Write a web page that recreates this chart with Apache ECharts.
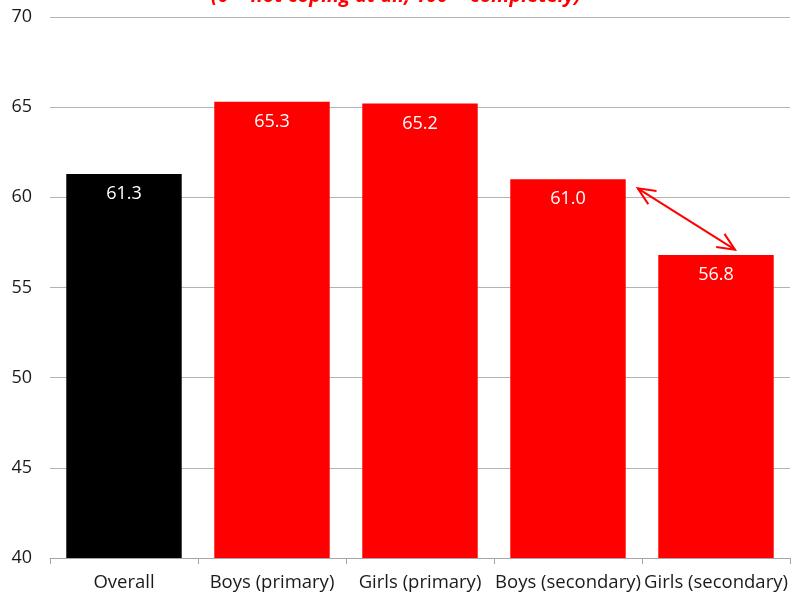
<!DOCTYPE html>
<html>
<head>
<meta charset="utf-8">
<script src="https://cdn.jsdelivr.net/npm/echarts@6/dist/echarts.min.js"></script>
<style>
  html, body { margin: 0; padding: 0; background: #fff; }
  #chart { width: 792px; height: 592px; }
</style>
</head>
<body>
<div id="chart"></div>
<script>
// Coping score by group (0-100 scale)
const categories = ['Overall', 'Boys (primary)', 'Girls (primary)', 'Boys (secondary)', 'Girls (secondary)'];
const scores = [61.3, 65.3, 65.2, 61.0, 56.8];
const barColors = ['#000000', '#ff0000', '#ff0000', '#ff0000', '#ff0000'];
const subtitle = '(0 = not coping at all, 100 = completely)';
// Gap highlighted between secondary boys and girls
const gapFrom = { index: 3, value: 60.5 };
const gapTo = { index: 4, value: 57.1 };

const FONT = '"Open Sans", "Liberation Sans", sans-serif';
const chart = echarts.init(document.getElementById('chart'), null, { renderer: 'canvas' });

chart.setOption({
  animation: false,
  grid: { left: 50, right: 2, top: 17, bottom: 34, containLabel: false, outerBoundsMode: 'none' },
  xAxis: {
    type: 'category',
    data: categories,
    axisLine: { lineStyle: { color: '#a6a6a6', width: 1 } },
    axisTick: { show: true, length: 6, lineStyle: { color: '#a6a6a6' } },
    axisLabel: { color: '#1a1a1a', fontSize: 18.5, fontFamily: FONT, margin: 15, interval: 0 }
  },
  yAxis: {
    type: 'value',
    min: 40, max: 70, interval: 5,
    axisLine: { show: false },
    axisTick: { show: false },
    axisLabel: { color: '#1a1a1a', fontSize: 18, fontFamily: FONT, margin: 18 },
    splitLine: { lineStyle: { color: '#b3b3b3', width: 1 } }
  },
  series: [{
    type: 'bar',
    barCategoryGap: '22%',
    data: scores.map((v, i) => ({ value: v, itemStyle: { color: barColors[i] } })),
    label: {
      show: true,
      position: 'insideTop',
      distance: 11,
      color: '#ffffff',
      fontSize: 18,
      fontFamily: FONT,
      formatter: p => p.value.toFixed(1)
    }
  }]
});

// Overlay: partially visible heading and the double-headed arrow
function drawOverlay() {
  const toPx = (idx, val) => chart.convertToPixel({ xAxisIndex: 0, yAxisIndex: 0 }, [idx, val]);
  const band = toPx(1, 50)[0] - toPx(0, 50)[0];
  const halfBar = band * 0.78 / 2;
  const a = toPx(gapFrom.index, gapFrom.value);
  const b = toPx(gapTo.index, gapTo.value);
  const p1 = [a[0] + halfBar + 12, a[1]];
  const p2 = [b[0] + 19, b[1]];
  const dx = p2[0] - p1[0], dy = p2[1] - p1[1];
  const len = Math.sqrt(dx * dx + dy * dy);
  const ux = dx / len, uy = dy / len;
  const headLen = 19, spread = 0.42;
  function head(tip, dirx, diry) {
    const ang = Math.atan2(diry, dirx);
    const l = [tip[0] - headLen * Math.cos(ang - spread), tip[1] - headLen * Math.sin(ang - spread)];
    const r = [tip[0] - headLen * Math.cos(ang + spread), tip[1] - headLen * Math.sin(ang + spread)];
    return { type: 'polyline', shape: { points: [l, tip, r] }, style: { stroke: '#ff0000', lineWidth: 2, fill: null } };
  }
  chart.setOption({
    graphic: [
      {
        type: 'text',
        left: 'center',
        top: -14,
        style: {
          text: subtitle,
          fill: '#ff0000',
          font: 'italic bold 20px ' + FONT
        }
      },
      { type: 'line', shape: { x1: p1[0], y1: p1[1], x2: p2[0], y2: p2[1] }, style: { stroke: '#ff0000', lineWidth: 2 } },
      head(p1, -ux, -uy),
      head(p2, ux, uy)
    ]
  });
}
drawOverlay();
</script>
</body>
</html>
